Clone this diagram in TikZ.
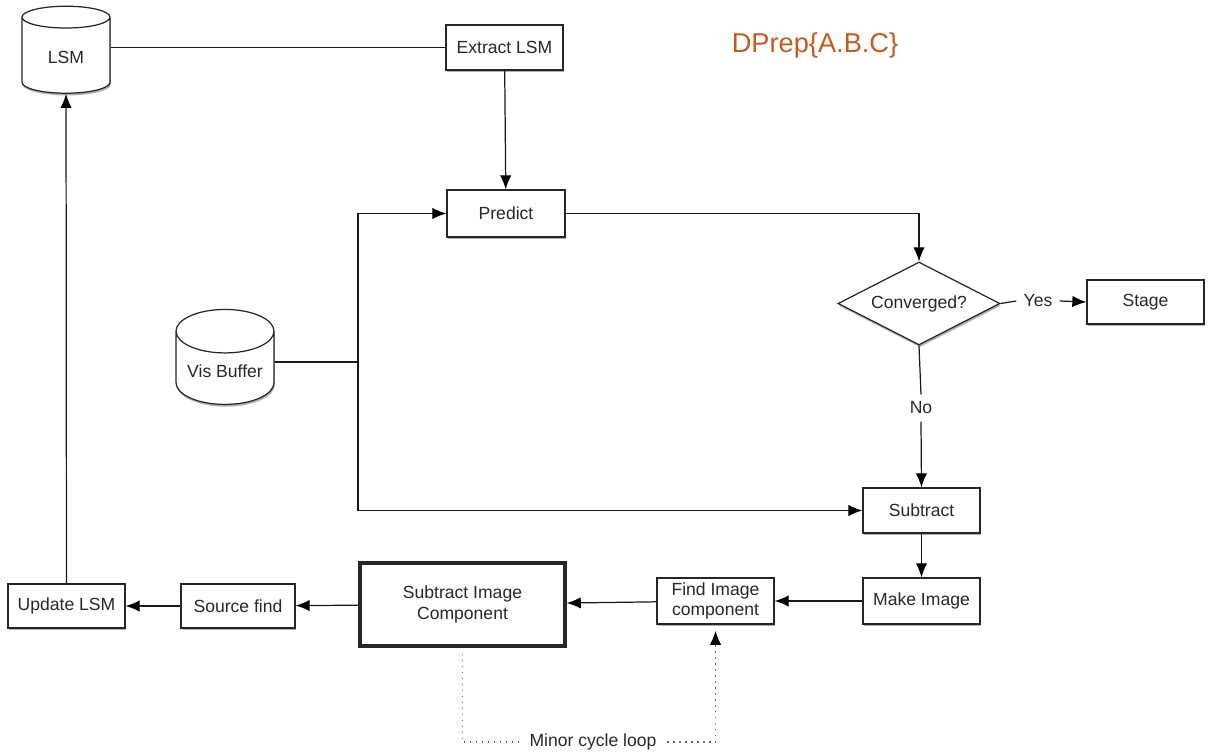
\documentclass[tikz,border=0pt]{standalone}
\usepackage{fontspec}
\setmainfont{Liberation Sans}
\usetikzlibrary{shapes.geometric,arrows.meta,shadows}
\definecolor{dprep}{RGB}{200,90,30}
\definecolor{txt}{RGB}{40,40,40}
\tikzset{
  base/.style={draw=black!85, fill=white, line width=0.7pt, text=txt,
    font=\fontsize{10}{11.5}\selectfont, align=center, inner sep=1pt,
    drop shadow={shadow xshift=0.5pt, shadow yshift=-1.3pt, opacity=0.3, fill=black}},
  box/.style={base, rectangle},
  db/.style={base, cylinder, shape border rotate=90, aspect=0.55},
  decision/.style={base, diamond, inner sep=0pt, aspect=1.95},
  tip/.style={-{Latex[length=8pt,width=6.5pt,black]}},
  arr/.style={line width=0.7pt, draw=black!90, tip},
  plain/.style={line width=0.7pt, draw=black!90},
  dotline/.style={line width=0.7pt, draw=black!60, dash pattern=on 0.8pt off 2.6pt},
  lbl/.style={text=txt, font=\fontsize{10}{11.5}\selectfont, inner sep=4pt}
}
\begin{document}
\begin{tikzpicture}[x=0.02cm,y=-0.02cm]
\useasboundingbox (0,0) rectangle (1208,753);

% nodes
\node[db, minimum width=1.76cm, minimum height=1.74cm] (lsm) at (66,57) {LSM};
\node[box, minimum width=2.34cm, minimum height=0.9cm] (ext) at (504.5,47.5) {Extract LSM};
\node[box, minimum width=2.36cm, minimum height=0.94cm] (pred) at (506,213.5) {Predict};
\node[decision, minimum width=3.24cm, minimum height=1.66cm] (conv) at (919,303.5) {Converged?};
\node[box, minimum width=2.34cm, minimum height=0.88cm] (stage) at (1145.5,302) {Stage};
\node[db, minimum width=1.96cm, minimum height=1.9cm] (vis) at (225,371) {Vis Buffer};
\node[box, minimum width=2.34cm, minimum height=0.9cm] (sub) at (921.5,510.5) {Subtract};
\node[box, minimum width=2.34cm, minimum height=0.92cm] (mk) at (921.5,601) {Make Image};
\node[box, minimum width=2.34cm, minimum height=0.92cm] (find) at (715.5,601) {Find Image\\component};
\node[box, line width=2pt, minimum width=4.1cm, minimum height=1.66cm] (sic) at (462.5,604.5) {Subtract Image\\Component};
\node[box, minimum width=2.28cm, minimum height=0.88cm] (src) at (238,606) {Source find};
\node[box, minimum width=2.34cm, minimum height=0.88cm] (upd) at (66.5,606) {Update LSM};

\node[font=\fontsize{15.5}{17}\selectfont, text=dprep] (title) at (815,45) {DPrep\{A.B.C\}};

% labels
\node[lbl] (yes) at (1038,301) {Yes};
\node[lbl] (no) at (921,408) {No};
\node[lbl, inner sep=6pt] (minor) at (593,742) {Minor cycle loop};

% connectors
\draw[plain] (ext.west) -- (ext.west -| lsm.east);
\draw[arr] (ext) -- (pred);
\draw[arr] (pred.east) -| (conv.north);
\draw[plain] (conv.east) -- (yes.west);
\draw[arr] (yes.east) -- (stage.west);
\draw[plain] (conv.south) -- (no.north);
\draw[arr] (no.south) -- (sub.north);

\coordinate (j) at (358,362);
\draw[plain] (vis.east |- j) -- (j);
\draw[arr] (j) |- (pred.west);
\draw[arr] (j) |- (sub.west);

\draw[arr] (sub) -- (mk);
\draw[arr] (mk) -- (find);
\draw[arr] (find) -- (sic);
\draw[arr] (sic) -- (src);
\draw[arr] (src) -- (upd);
\draw[arr] (upd) -- (lsm);

\draw[dotline] ([yshift=-3.5pt]sic.south) |- (minor.west);
\draw[dotline, tip] (minor.east) -| ([yshift=-3.5pt]find.south);
\end{tikzpicture}
\end{document}
